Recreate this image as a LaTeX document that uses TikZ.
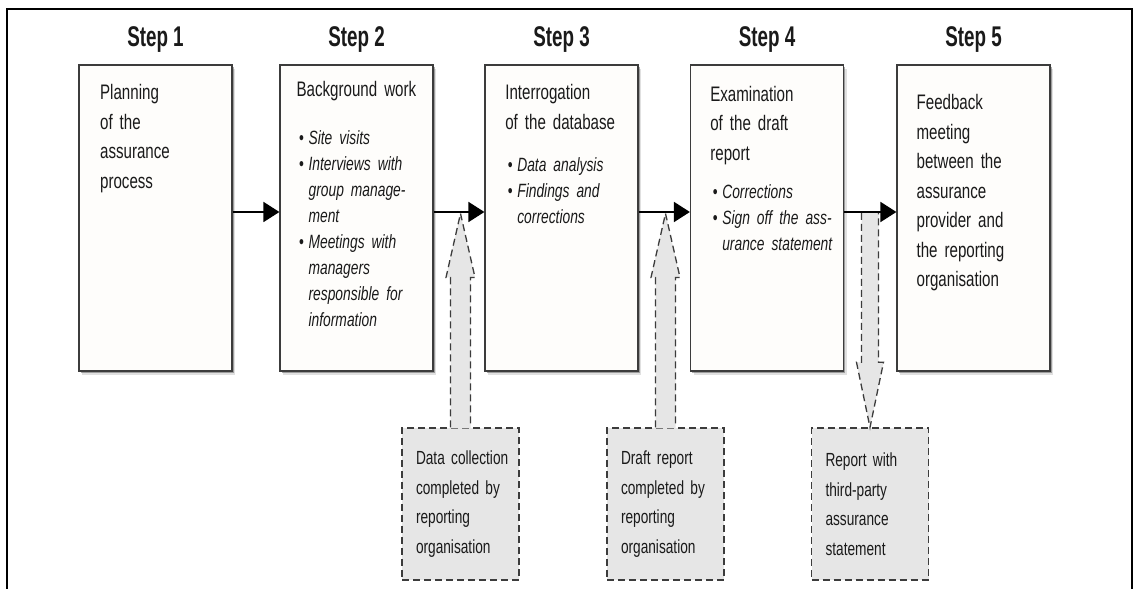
\documentclass[tikz,border=0pt]{standalone}
\usepackage{fontspec}
\setmainfont{Liberation Sans}[FakeStretch=0.72]
\newfontfamily\stepfont{Liberation Sans}[FakeStretch=0.66]
\usepackage{xcolor}
\usepackage{tikz}
\usetikzlibrary{calc}
\usetikzlibrary{arrows.meta,positioning,shadows}
\definecolor{boxline}{HTML}{3C3C3C}
\definecolor{boxpaper}{HTML}{FEFDFB}
\definecolor{notegray}{HTML}{E6E6E6}
\definecolor{inkgray}{HTML}{1A1A1A}
\newcommand{\pitem}[1]{\hspace*{2.5pt}\makebox[9.5pt][l]{\upshape\textbullet}#1}
\newcommand{\pcont}[1]{\hspace*{12pt}#1}
\newcommand{\itemsize}{\fontsize{19.2}{26}\selectfont\itshape}

\begin{document}
\begin{tikzpicture}[x=1pt,y=1pt,
	stepbox/.style={draw=boxline,line width=1.2pt,fill=boxpaper,minimum width=153pt,minimum height=306pt,
		drop shadow={shadow xshift=3pt,shadow yshift=-4pt,fill=black,opacity=.12},
		drop shadow={shadow xshift=1.5pt,shadow yshift=-2pt,fill=black!70,opacity=.45}},
	steptext/.style={anchor=north west,inner sep=0pt,text width=128pt,align=left,text=inkgray,font=\fontsize{21}{29.5}\selectfont},
	steplabel/.style={inner sep=0pt,text=inkgray,font=\stepfont\bfseries\fontsize{28.5}{30}\selectfont},
	notebox/.style={draw=boxline,line width=1.3pt,dash pattern=on 7pt off 4pt,fill=notegray,minimum height=152pt,
		text width=89pt,inner xsep=14pt,align=left,text=inkgray,font=\fontsize{19}{29.5}\selectfont},
	blockfill/.style={fill=notegray},
	blockline/.style={draw=boxline,line width=1.3pt,dash pattern=on 7pt off 4pt},
	flowarrow/.style={line width=1.8pt,-{Triangle[length=16pt,width=20pt]}}]
	\fill[white] (0,0) rectangle (1135,589);
	\useasboundingbox (0,0) rectangle (1135,589);
	\draw[line width=1.6pt] (7,0) -- (7,580) -- (1132,580) -- (1132,0);

	\node[stepbox] (s1) at (155.5,371) {};
	\node[stepbox] (s2) at (356.5,371) {};
	\node[stepbox] (s3) at (561.5,371) {};
	\node[stepbox] (s4) at (767,371) {};
	\node[stepbox] (s5) at (973.5,371) {};
	\foreach \i in {1,...,5}
		\node[steplabel,above=12pt of s\i] (h\i) {Step \i};

	\node[steptext] (t1) at ([shift={(21.5pt,-14.5pt)}]s1.north west) {\strut Planning\\of the\\assurance\\process};
	\node[steptext] (t2) at ([shift={(17pt,-11pt)}]s2.north west) {\strut Background work\par\vspace{22.5pt}
		{\itemsize\pitem{Site visits}\\\pitem{Interviews with}\\\pcont{group manage-}\\\pcont{ment}\\\pitem{Meetings with}\\\pcont{managers}\\\pcont{responsible for}\\\pcont{information}\par}};
	\node[steptext] (t3) at ([shift={(20.7pt,-14.4pt)}]s3.north west) {\strut Interrogation\\of the database\par\vspace{16.2pt}
		{\itemsize\pitem{Data analysis}\\\pitem{Findings and}\\\pcont{corrections}\par}};
	\node[steptext] (t4) at ([shift={(20.2pt,-16pt)}]s4.north west) {\strut Examination\\of the draft\\report\par\vspace{12.2pt}
		{\itemsize\pitem{Corrections}\\\pitem{Sign off the ass-}\\\pcont{urance statement}\par}};
	\node[steptext] (t5) at ([shift={(20pt,-24.4pt)}]s5.north west) {\strut Feedback\\meeting\\between the\\assurance\\provider and\\the reporting\\organisation};

	\node[notebox] (d1) at (460.5,85) {\mbox{Data collection}\\completed by\\reporting\\organisation};
	\node[notebox] (d2) at (665.5,85) {Draft report\\completed by\\reporting\\organisation};
	\node[notebox] (d3) at (870,85) {Report with\\third-party\\assurance\\statement};

	\foreach \d/\s in {d1/s2,d2/s3}{
		\coordinate (tip) at ($(\d.north |- \s.east)+(0,4.5)$);
		\fill[blockfill] ([shift={(-10pt,-1pt)}]\d.north) -- ($(tip)+(-10,-64)$) -- ($(tip)+(-14.5,-64)$) -- (tip)
			-- ($(tip)+(14.5,-64)$) -- ($(tip)+(10,-64)$) -- ([shift={(10pt,-1pt)}]\d.north) -- cycle;
		\draw[blockline] ([xshift=-10pt]\d.north) -- ($(tip)+(-10,-64)$) -- ($(tip)+(-14.5,-64)$) -- (tip)
			-- ($(tip)+(14.5,-64)$) -- ($(tip)+(10,-64)$) -- ([xshift=10pt]\d.north);
	}
	\coordinate (root) at ($(d3.north |- s4.east)+(0,5)$);
	\fill[blockfill] ($(root)+(-8.5,0)$) -- ([shift={(-8.5pt,65pt)}]d3.north) -- ([shift={(-13.5pt,65pt)}]d3.north) -- ([yshift=1pt]d3.north)
		-- ([shift={(13.5pt,65pt)}]d3.north) -- ([shift={(8.5pt,65pt)}]d3.north) -- ($(root)+(8.5,0)$) -- cycle;
	\draw[blockline] ($(root)+(-8.5,0)$) -- ([shift={(-8.5pt,65pt)}]d3.north) -- ([shift={(-13.5pt,65pt)}]d3.north) -- (d3.north)
		-- ([shift={(13.5pt,65pt)}]d3.north) -- ([shift={(8.5pt,65pt)}]d3.north) -- ($(root)+(8.5,0)$);

	\foreach \a/\b in {s1/s2,s2/s3,s3/s4,s4/s5}
		\draw[flowarrow] ([yshift=6pt]\a.east) -- ([yshift=6pt]\b.west);
\end{tikzpicture}
\end{document}
